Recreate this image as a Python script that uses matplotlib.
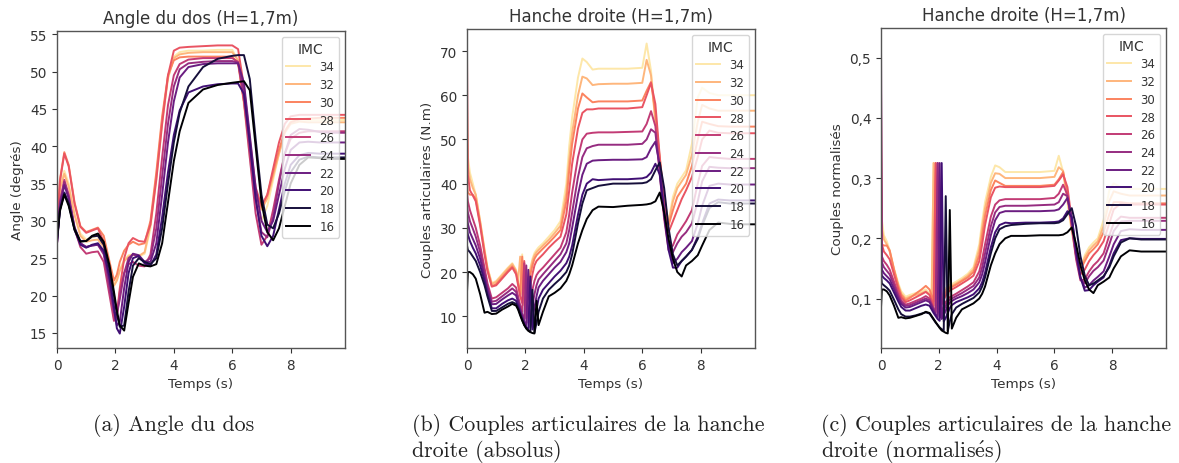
import matplotlib
matplotlib.use("Agg")
import matplotlib.pyplot as plt
from matplotlib.ticker import FuncFormatter

# IMC classes, listed as in the legend
IMC = [34, 32, 30, 28, 26, 24, 22, 20, 18, 16]

# ---------------- Angle du dos (degrés) ----------------
T_ANGLE = [0, 0.1, 0.25, 0.4, 0.6,
           0.8, 1.0, 1.2, 1.4, 1.6,
           1.8, 1.95, 2.05, 2.15, 2.3,
           2.45, 2.6, 2.8, 3.0, 3.2,
           3.4, 3.6, 3.8, 4.0, 4.2,
           4.5, 5.0, 5.5, 6.0, 6.2,
           6.4, 6.6, 6.8, 7.0, 7.2,
           7.4, 7.6, 7.8, 8.0, 8.3,
           8.6, 9.0, 9.4, 9.86]

ANGLE_34 = [29.0, 34.5, 36.7, 35.0, 31.0,
            28.3, 27.5, 27.8, 28.0, 26.8,
            23.5, 21.4, 22.2, 23.5, 24.8,
            25.4, 25.5, 25.2, 25.6, 29.0,
            35.5, 43.0, 49.0, 52.0, 52.6,
            52.8, 52.8, 52.9, 52.9, 51.5,
            45.5, 38.5, 32.5, 30.0, 32.0,
            35.5, 39.0, 42.0, 43.3, 43.6,
            43.5, 43.5, 43.5, 43.5]
ANGLE_32 = [29.0, 34.2, 36.3, 34.6, 30.8,
            28.0, 27.2, 27.4, 27.5, 26.5,
            23.5, 21.3, 22.0, 23.3, 24.6,
            25.2, 25.5, 25.3, 25.8, 29.5,
            36.0, 43.5, 49.2, 51.8, 52.3,
            52.5, 52.6, 52.6, 52.6, 51.5,
            46.0, 39.5, 33.5, 31.5, 33.0,
            36.0, 39.0, 41.8, 43.0, 43.3,
            43.2, 43.2, 43.2, 43.2]
ANGLE_30 = [28.5, 35.5, 39.2, 37.5, 32.5,
            29.3, 28.5, 28.8, 29.1, 28.0,
            24.5, 22.0, 22.8, 24.5, 26.0,
            26.8, 27.2, 26.8, 27.0, 30.0,
            36.5, 44.0, 49.5, 51.5, 51.9,
            52.0, 52.0, 52.0, 52.0, 51.0,
            46.0, 40.0, 34.0, 31.8, 33.5,
            36.5, 39.5, 42.0, 43.2, 43.6,
            43.7, 43.8, 43.8, 43.8]
ANGLE_28 = [28.0, 35.3, 39.0, 37.3, 32.3,
            29.2, 28.4, 28.7, 29.0, 27.2,
            21.5, 17.0, 17.5, 21.0, 25.0,
            27.0, 27.7, 27.3, 27.2, 29.5,
            35.5, 43.0, 49.5, 52.8, 53.2,
            53.3, 53.4, 53.5, 53.5, 53.0,
            48.0, 41.0, 34.5, 32.0, 33.5,
            37.0, 40.5, 43.0, 44.0, 44.2,
            44.2, 44.2, 44.2, 44.2]
ANGLE_26 = [27.0, 32.5, 35.5, 33.5, 29.0,
            26.5, 25.6, 25.8, 25.9, 24.5,
            20.0, 16.6, 17.2, 20.5, 23.0,
            24.2, 24.5, 24.0, 23.9, 25.5,
            31.0, 38.5, 45.5, 49.5, 51.0,
            51.6, 51.8, 51.8, 51.8, 51.3,
            46.0, 38.5, 31.0, 26.8, 28.0,
            31.5, 35.5, 39.0, 41.0, 41.8,
            42.0, 42.0, 42.0, 42.0]
ANGLE_24 = [27.0, 32.5, 35.2, 33.3, 29.2,
            27.0, 26.5, 26.7, 26.8, 25.5,
            21.0, 17.8, 17.5, 19.5, 23.0,
            25.0, 25.5, 25.2, 24.5, 25.0,
            29.0, 36.0, 43.0, 48.0, 50.3,
            51.1, 51.3, 51.4, 51.4, 51.2,
            47.0, 40.0, 33.0, 28.5, 27.8,
            30.5, 35.0, 39.0, 41.5, 42.3,
            42.2, 41.9, 41.8, 41.8]
ANGLE_22 = [27.0, 32.0, 34.8, 33.0, 29.0,
            27.0, 26.5, 26.7, 26.8, 25.8,
            22.0, 18.0, 16.0, 16.5, 21.0,
            24.5, 25.6, 25.4, 24.5, 24.5,
            27.0, 33.5, 40.5, 46.0, 49.2,
            50.6, 51.0, 51.1, 51.1, 51.1,
            48.5, 41.5, 34.5, 30.0, 28.5,
            30.0, 33.5, 37.0, 39.5, 40.5,
            40.6, 40.5, 40.5, 40.5]
ANGLE_20 = [27.0, 31.5, 33.8, 32.3, 28.8,
            26.8, 26.4, 26.8, 27.0, 26.0,
            22.5, 18.5, 15.6, 14.9, 18.5,
            23.0, 25.0, 25.3, 24.3, 24.0,
            25.5, 30.5, 36.5, 41.5, 44.8,
            47.2, 48.0, 48.3, 48.4, 48.4,
            47.0, 40.5, 33.0, 28.0, 26.6,
            28.0, 31.5, 35.0, 37.5, 38.8,
            39.1, 39.0, 39.0, 39.0]
ANGLE_18 = [27.5, 31.5, 33.7, 32.3, 29.0,
            27.3, 27.3, 27.9, 28.0, 26.8,
            23.5, 20.0, 17.5, 15.8, 16.0,
            20.5, 24.0, 25.0, 24.5, 24.2,
            25.0, 29.0, 35.0, 40.5, 44.5,
            48.0, 50.6, 51.7, 52.1, 52.2,
            52.2, 49.0, 41.0, 33.5, 29.5,
            29.0, 31.0, 34.0, 36.5, 38.2,
            38.6, 38.5, 38.5, 38.5]
ANGLE_16 = [27.5, 31.3, 33.5, 32.0, 28.8,
            27.2, 27.3, 28.0, 28.3, 27.2,
            24.0, 20.5, 18.0, 16.0, 15.3,
            19.0, 22.5, 24.3, 24.0, 23.9,
            24.2, 27.0, 32.5, 38.0, 42.0,
            45.8, 47.6, 48.2, 48.5, 48.6,
            48.7, 47.5, 40.0, 32.5, 28.5,
            27.4, 29.0, 32.0, 35.0, 37.5,
            38.5, 38.4, 38.3, 38.3]

# ---------------- Couples de la hanche droite ----------------
T_COUPLES = [0, 0.03, 0.1, 0.2, 0.3,
             0.45, 0.6, 0.7, 0.85, 1.0,
             1.2, 1.4, 1.55, 1.68, 1.75,
             1.82, 1.89, 1.96, 2.03, 2.10,
             2.17, 2.24, 2.31, 2.38, 2.45,
             2.6, 2.8, 3.0, 3.2, 3.4,
             3.5, 3.6, 3.8, 3.95, 4.1,
             4.3, 4.5, 5.0, 5.5, 6.0,
             6.15, 6.3, 6.45, 6.6, 6.75,
             6.9, 7.05, 7.2, 7.35, 7.5,
             7.7, 7.9, 8.05, 8.3, 8.6,
             9.0, 9.4, 9.86]

# absolute torques (N.m)
HANCHE_34 = [58.0, 46.0, 42.5, 40.0, 37.5,
             31.5, 25.0, 21.0, 17.5, 18.0,
             19.5, 21.0, 22.0, 20.5, 18.0,
             15.5, 24.0, 13.5, 16.0, 18.5,
             21.0, 23.0, 24.3, 25.0, 25.6,
             26.5, 28.0, 29.5, 31.5, 40.0,
             48.5, 55.0, 64.0, 68.3, 67.5,
             65.8, 66.0, 66.0, 66.0, 66.2,
             71.7, 65.5, 54.0, 44.0, 36.0,
             31.5, 37.0, 40.0, 41.5, 43.0,
             49.0, 59.5, 61.7, 60.5, 60.0,
             60.0, 60.0, 60.0]
HANCHE_32 = [52.0, 44.0, 41.0, 39.0, 37.5,
             31.5, 25.0, 21.0, 17.3, 17.8,
             19.3, 20.8, 21.8, 20.3, 17.8,
             23.5, 15.0, 13.0, 15.5, 18.0,
             20.5, 22.5, 23.8, 24.5, 25.0,
             26.0, 27.3, 28.8, 30.5, 38.0,
             45.5, 51.5, 60.0, 64.2, 63.8,
             62.3, 62.5, 62.6, 62.6, 62.8,
             68.0, 64.5, 54.0, 46.0, 37.0,
             31.0, 36.0, 39.0, 40.5, 42.0,
             46.5, 54.0, 57.8, 57.0, 56.5,
             56.5, 56.5, 56.5]
HANCHE_30 = [40.0, 38.0, 37.5, 37.5, 36.5,
             31.0, 24.5, 20.5, 16.8, 17.3,
             18.8, 20.3, 21.3, 20.0, 17.5,
             15.0, 23.5, 12.5, 14.5, 17.0,
             19.5, 21.5, 23.0, 23.8, 24.3,
             25.3, 26.6, 28.0, 29.5, 36.0,
             43.0, 49.0, 57.0, 60.4, 59.5,
             58.4, 58.6, 58.6, 58.6, 58.8,
             61.0, 63.0, 56.0, 45.0, 36.0,
             30.5, 34.0, 37.0, 38.5, 40.0,
             44.0, 50.0, 54.0, 53.5, 53.0,
             52.9, 52.9, 52.9]
HANCHE_28 = [69.5, 42.0, 38.5, 37.3, 36.0,
             30.5, 24.0, 20.3, 16.7, 17.0,
             18.5, 20.0, 21.0, 19.5, 17.0,
             14.5, 13.0, 22.5, 12.0, 14.5,
             17.0, 19.5, 21.5, 22.5, 23.0,
             24.0, 25.5, 26.8, 28.0, 33.0,
             38.5, 44.5, 52.5, 56.0, 56.8,
             56.8, 57.0, 57.0, 57.0, 57.3,
             60.0, 62.8, 58.0, 46.0, 35.0,
             29.0, 31.5, 34.0, 36.5, 38.5,
             41.5, 46.0, 50.0, 52.0, 51.5,
             51.4, 51.4, 51.4]
HANCHE_26 = [38.0, 36.0, 34.0, 32.0, 30.0,
             26.0, 21.0, 17.5, 14.0, 14.3,
             15.3, 16.3, 17.3, 16.5, 14.5,
             12.5, 11.0, 22.0, 9.5, 11.0,
             13.5, 16.0, 18.0, 19.3, 20.0,
             21.0, 22.5, 24.0, 25.5, 29.0,
             33.0, 38.0, 46.0, 50.0, 51.3,
             51.5, 51.6, 51.6, 51.7, 51.8,
             53.5, 56.4, 53.0, 42.0, 32.0,
             25.0, 26.0, 28.5, 30.0, 31.5,
             34.0, 40.0, 44.0, 46.0, 45.8,
             45.6, 45.6, 45.6]
HANCHE_24 = [35.0, 33.5, 31.5, 29.8, 28.0,
             24.5, 20.0, 16.8, 13.3, 13.5,
             14.5, 15.5, 16.3, 15.5, 13.8,
             12.0, 10.5, 9.0, 21.5, 8.5,
             10.0, 12.5, 15.0, 17.0, 18.3,
             19.5, 21.0, 22.5, 24.0, 26.5,
             29.5, 33.5, 41.5, 46.0, 48.0,
             48.5, 48.8, 48.8, 48.8, 49.0,
             50.0, 52.3, 51.5, 43.0, 33.0,
             26.0, 24.5, 26.5, 28.0, 29.0,
             31.0, 36.0, 40.5, 43.8, 43.6,
             43.5, 43.5, 43.5]
HANCHE_22 = [33.0, 31.0, 29.0, 27.5, 26.0,
             23.0, 19.0, 16.0, 12.7, 12.8,
             13.8, 14.7, 15.3, 14.7, 13.2,
             11.5, 10.0, 8.8, 8.0, 20.5,
             7.5, 9.5, 12.0, 14.5, 16.5,
             18.0, 19.5, 21.0, 22.3, 24.5,
             26.5, 30.0, 37.5, 42.0, 44.5,
             45.2, 45.3, 45.4, 45.4, 45.5,
             46.0, 48.0, 49.5, 44.0, 34.0,
             26.0, 22.0, 23.0, 24.5, 25.5,
             27.0, 31.0, 35.0, 39.5, 40.0,
             39.8, 39.8, 39.8]
HANCHE_20 = [30.0, 28.5, 27.0, 25.5, 24.2,
             21.5, 18.0, 15.0, 11.8, 11.8,
             12.8, 13.6, 14.0, 13.5, 12.3,
             10.8, 9.5, 8.3, 7.5, 7.0,
             19.0, 7.0, 9.0, 11.5, 14.0,
             16.0, 17.5, 19.0, 20.3, 22.0,
             23.5, 26.0, 33.0, 37.5, 40.0,
             41.0, 40.8, 41.0, 41.0, 41.2,
             41.5, 42.5, 44.5, 42.0, 33.0,
             25.0, 21.0, 21.0, 22.5, 23.5,
             25.0, 28.0, 31.0, 35.5, 36.4,
             36.2, 36.2, 36.2]
HANCHE_18 = [26.0, 25.0, 24.5, 23.5, 22.5,
             20.0, 17.0, 14.5, 11.2, 11.2,
             12.0, 12.8, 13.2, 12.8, 11.8,
             10.5, 9.2, 8.0, 7.3, 6.8,
             6.5, 16.0, 6.3, 8.5, 11.0,
             14.0, 16.0, 17.3, 18.5, 20.0,
             21.5, 24.0, 31.0, 35.5, 38.5,
             39.0, 39.5, 40.0, 40.0, 40.1,
             40.3, 41.0, 43.0, 44.8, 39.0,
             30.0, 24.0, 21.5, 22.5, 23.5,
             25.0, 27.5, 30.5, 34.5, 35.8,
             35.5, 35.5, 35.5]
HANCHE_16 = [15.5, 20.0, 20.0, 19.5, 18.5,
             15.0, 10.8, 11.0, 10.5, 10.6,
             11.5, 12.2, 12.8, 12.4, 11.5,
             10.2, 9.0, 8.0, 7.2, 6.7,
             6.4, 6.2, 6.1, 13.5, 8.0,
             11.0, 14.5, 15.3, 16.3, 18.0,
             19.5, 21.5, 26.5, 29.5, 32.0,
             34.0, 34.8, 34.7, 35.0, 35.2,
             35.3, 35.5, 36.0, 38.0, 33.5,
             27.5, 23.0, 20.0, 19.0, 21.5,
             22.5, 23.8, 26.0, 29.5, 31.2,
             30.9, 30.8, 30.8]

# normalised torques
NORM_34 = [0.41, 0.23, 0.205, 0.195, 0.18,
           0.15, 0.125, 0.112, 0.103, 0.106,
           0.109, 0.112, 0.115, 0.108, 0.100,
           0.325, 0.086, 0.090, 0.098, 0.105,
           0.112, 0.117, 0.120, 0.122, 0.124,
           0.128, 0.134, 0.141, 0.152, 0.19,
           0.228, 0.26, 0.302, 0.321, 0.318,
           0.310, 0.310, 0.310, 0.310, 0.312,
           0.337, 0.31, 0.26, 0.21, 0.17,
           0.150, 0.172, 0.185, 0.193, 0.20,
           0.23, 0.28, 0.291, 0.285, 0.282,
           0.282, 0.282, 0.282]
NORM_32 = [0.30, 0.215, 0.198, 0.19, 0.178,
           0.148, 0.122, 0.108, 0.100, 0.103,
           0.106, 0.109, 0.112, 0.106, 0.098,
           0.325, 0.084, 0.088, 0.096, 0.103,
           0.109, 0.114, 0.117, 0.119, 0.121,
           0.125, 0.131, 0.138, 0.148, 0.182,
           0.218, 0.25, 0.292, 0.308, 0.307,
           0.300, 0.300, 0.300, 0.300, 0.302,
           0.318, 0.312, 0.265, 0.215, 0.172,
           0.150, 0.168, 0.18, 0.188, 0.195,
           0.22, 0.262, 0.278, 0.274, 0.271,
           0.271, 0.271, 0.271]
NORM_30 = [0.20, 0.19, 0.188, 0.188, 0.18,
           0.148, 0.12, 0.106, 0.097, 0.101,
           0.108, 0.115, 0.121, 0.115, 0.105,
           0.095, 0.325, 0.082, 0.088, 0.096,
           0.104, 0.110, 0.114, 0.117, 0.119,
           0.123, 0.129, 0.135, 0.144, 0.172,
           0.205, 0.237, 0.28, 0.296, 0.292,
           0.287, 0.287, 0.287, 0.287, 0.289,
           0.298, 0.31, 0.275, 0.22, 0.172,
           0.148, 0.162, 0.175, 0.182, 0.19,
           0.21, 0.24, 0.26, 0.26, 0.258,
           0.258, 0.258, 0.258]
NORM_28 = [0.35, 0.19, 0.178, 0.172, 0.165,
           0.14, 0.115, 0.102, 0.094, 0.097,
           0.102, 0.107, 0.111, 0.106, 0.097,
           0.088, 0.325, 0.076, 0.082, 0.09,
           0.098, 0.105, 0.110, 0.113, 0.115,
           0.119, 0.125, 0.131, 0.138, 0.162,
           0.19, 0.222, 0.268, 0.284, 0.286,
           0.285, 0.285, 0.285, 0.285, 0.287,
           0.296, 0.306, 0.285, 0.23, 0.175,
           0.14, 0.148, 0.162, 0.172, 0.18,
           0.195, 0.225, 0.248, 0.258, 0.256,
           0.256, 0.256, 0.256]
NORM_26 = [0.45, 0.17, 0.162, 0.156, 0.148,
           0.128, 0.108, 0.097, 0.090, 0.092,
           0.096, 0.100, 0.104, 0.100, 0.092,
           0.084, 0.078, 0.325, 0.072, 0.079,
           0.087, 0.094, 0.099, 0.102, 0.104,
           0.108, 0.114, 0.120, 0.127, 0.145,
           0.165, 0.19, 0.236, 0.256, 0.263,
           0.265, 0.265, 0.265, 0.265, 0.267,
           0.274, 0.289, 0.272, 0.22, 0.165,
           0.13, 0.132, 0.145, 0.155, 0.162,
           0.175, 0.205, 0.225, 0.236, 0.234,
           0.234, 0.234, 0.234]
NORM_24 = [0.525, 0.16, 0.152, 0.146, 0.14,
           0.122, 0.104, 0.094, 0.088, 0.089,
           0.093, 0.097, 0.100, 0.097, 0.090,
           0.082, 0.076, 0.325, 0.068, 0.072,
           0.080, 0.088, 0.094, 0.098, 0.100,
           0.104, 0.109, 0.115, 0.121, 0.135,
           0.152, 0.175, 0.22, 0.243, 0.252,
           0.254, 0.254, 0.254, 0.255, 0.256,
           0.26, 0.274, 0.27, 0.225, 0.17,
           0.133, 0.125, 0.137, 0.146, 0.152,
           0.163, 0.19, 0.212, 0.228, 0.229,
           0.229, 0.229, 0.229]
NORM_22 = [0.20, 0.148, 0.142, 0.137, 0.132,
           0.116, 0.100, 0.091, 0.085, 0.086,
           0.090, 0.094, 0.097, 0.094, 0.087,
           0.080, 0.074, 0.069, 0.325, 0.066,
           0.072, 0.080, 0.088, 0.093, 0.096,
           0.100, 0.104, 0.109, 0.115, 0.127,
           0.14, 0.16, 0.205, 0.23, 0.242,
           0.245, 0.245, 0.245, 0.245, 0.246,
           0.248, 0.256, 0.267, 0.235, 0.175,
           0.135, 0.118, 0.122, 0.13, 0.136,
           0.145, 0.17, 0.19, 0.212, 0.215,
           0.214, 0.214, 0.214]
NORM_20 = [0.16, 0.138, 0.134, 0.130, 0.125,
           0.11, 0.095, 0.086, 0.080, 0.080,
           0.084, 0.088, 0.090, 0.088, 0.082,
           0.076, 0.071, 0.066, 0.063, 0.325,
           0.062, 0.068, 0.076, 0.084, 0.089,
           0.094, 0.098, 0.102, 0.107, 0.117,
           0.127, 0.143, 0.185, 0.21, 0.222,
           0.226, 0.225, 0.226, 0.226, 0.227,
           0.228, 0.233, 0.245, 0.235, 0.18,
           0.135, 0.113, 0.114, 0.122, 0.128,
           0.135, 0.155, 0.175, 0.197, 0.2,
           0.199, 0.199, 0.199]
NORM_18 = [0.14, 0.125, 0.122, 0.118, 0.113,
           0.098, 0.082, 0.074, 0.070, 0.070,
           0.072, 0.075, 0.077, 0.075, 0.070,
           0.065, 0.060, 0.056, 0.052, 0.049,
           0.047, 0.27, 0.046, 0.062, 0.074,
           0.085, 0.091, 0.096, 0.101, 0.11,
           0.12, 0.135, 0.175, 0.2, 0.215,
           0.22, 0.222, 0.224, 0.225, 0.225,
           0.226, 0.23, 0.24, 0.25, 0.22,
           0.17, 0.138, 0.122, 0.125, 0.13,
           0.137, 0.152, 0.17, 0.193, 0.2,
           0.198, 0.198, 0.198]
NORM_16 = [0.085, 0.115, 0.115, 0.112, 0.105,
           0.088, 0.068, 0.069, 0.067, 0.068,
           0.071, 0.074, 0.078, 0.076, 0.071,
           0.066, 0.061, 0.056, 0.051, 0.047,
           0.045, 0.043, 0.042, 0.247, 0.05,
           0.068, 0.082, 0.087, 0.092, 0.1,
           0.108, 0.12, 0.155, 0.175, 0.19,
           0.2, 0.204, 0.204, 0.205, 0.205,
           0.205, 0.206, 0.21, 0.218, 0.19,
           0.155, 0.13, 0.115, 0.109, 0.122,
           0.128, 0.135, 0.15, 0.17, 0.18,
           0.178, 0.178, 0.178]

ANGLE = dict(zip(IMC, [ANGLE_34, ANGLE_32, ANGLE_30, ANGLE_28, ANGLE_26,
                       ANGLE_24, ANGLE_22, ANGLE_20, ANGLE_18, ANGLE_16]))
HANCHE = dict(zip(IMC, [HANCHE_34, HANCHE_32, HANCHE_30, HANCHE_28, HANCHE_26,
                        HANCHE_24, HANCHE_22, HANCHE_20, HANCHE_18, HANCHE_16]))
NORM = dict(zip(IMC, [NORM_34, NORM_32, NORM_30, NORM_28, NORM_26,
                      NORM_24, NORM_22, NORM_20, NORM_18, NORM_16]))

TEXT = "#333333"
plt.rcParams.update({
    "font.family": ["DejaVu Sans"],
    "mathtext.fontset": "cm",
    "text.color": TEXT,
    "axes.labelcolor": TEXT,
    "axes.edgecolor": "#555555",
    "axes.linewidth": 1.0,
    "xtick.color": TEXT,
    "ytick.color": TEXT,
    "xtick.labelsize": 9.8,
    "ytick.labelsize": 9.8,
    "axes.labelsize": 9.7,
    "axes.titlesize": 12,
})

W, H = 1179, 464
fig = plt.figure(figsize=(W / 100, H / 100), dpi=100)


def box(left, top, right, bottom):
    return [left / W, 1 - bottom / H, (right - left) / W, (bottom - top) / H]


ax_a = fig.add_axes(box(57, 32, 345, 349))
ax_b = fig.add_axes(box(467, 30, 755, 349))
ax_c = fig.add_axes(box(881, 29, 1166, 349))

cmap = matplotlib.colormaps["magma"]


def imc_color(v):
    return cmap(0.95 * (v - 16) / 18)


def draw(ax, t, series, title, ylabel):
    for v in IMC:
        ax.plot(t, series[v], color=imc_color(v), lw=1.4, label=str(v))
    ax.set_xlim(0, t[-1])
    ax.set_xticks([0, 2, 4, 6, 8])
    ax.set_title(title)
    ax.set_xlabel("Temps (s)")
    ax.set_ylabel(ylabel)
    leg = ax.legend(title="IMC", loc="upper right", fontsize=8.5,
                    title_fontsize=10, framealpha=0.8, labelspacing=0.4)
    leg.get_frame().set_edgecolor("#cccccc")


draw(ax_a, T_ANGLE, ANGLE, "Angle du dos (H=1,7m)", "Angle (degrés)")
draw(ax_b, T_COUPLES, HANCHE, "Hanche droite (H=1,7m)", "Couples articulaires (N.m)")
draw(ax_c, T_COUPLES, NORM, "Hanche droite (H=1,7m)", "Couples normalisés")
ax_c.yaxis.set_major_formatter(FuncFormatter(lambda y, _: f"{y:.1f}".replace(".", ",")))

# sub-figure captions
cap = dict(fontfamily=["cmr10", "DejaVu Serif"], fontsize=15.8, va="center",
           ha="left", color="#222222")
fig.text(93 / W, 1 - 426 / H, "(a) Angle du dos", **cap)
fig.text(412 / W, 1 - 426 / H, "(b) Couples articulaires de la hanche", **cap)
fig.text(412 / W, 1 - 452 / H, "droite (absolus)", **cap)
fig.text(821 / W, 1 - 426 / H, "(c) Couples articulaires de la hanche", **cap)
fig.text(821 / W, 1 - 452 / H, r"droite (normalis$\acute{\mathrm{e}}$s)", **cap)

fig.savefig("out.png", dpi=100)
